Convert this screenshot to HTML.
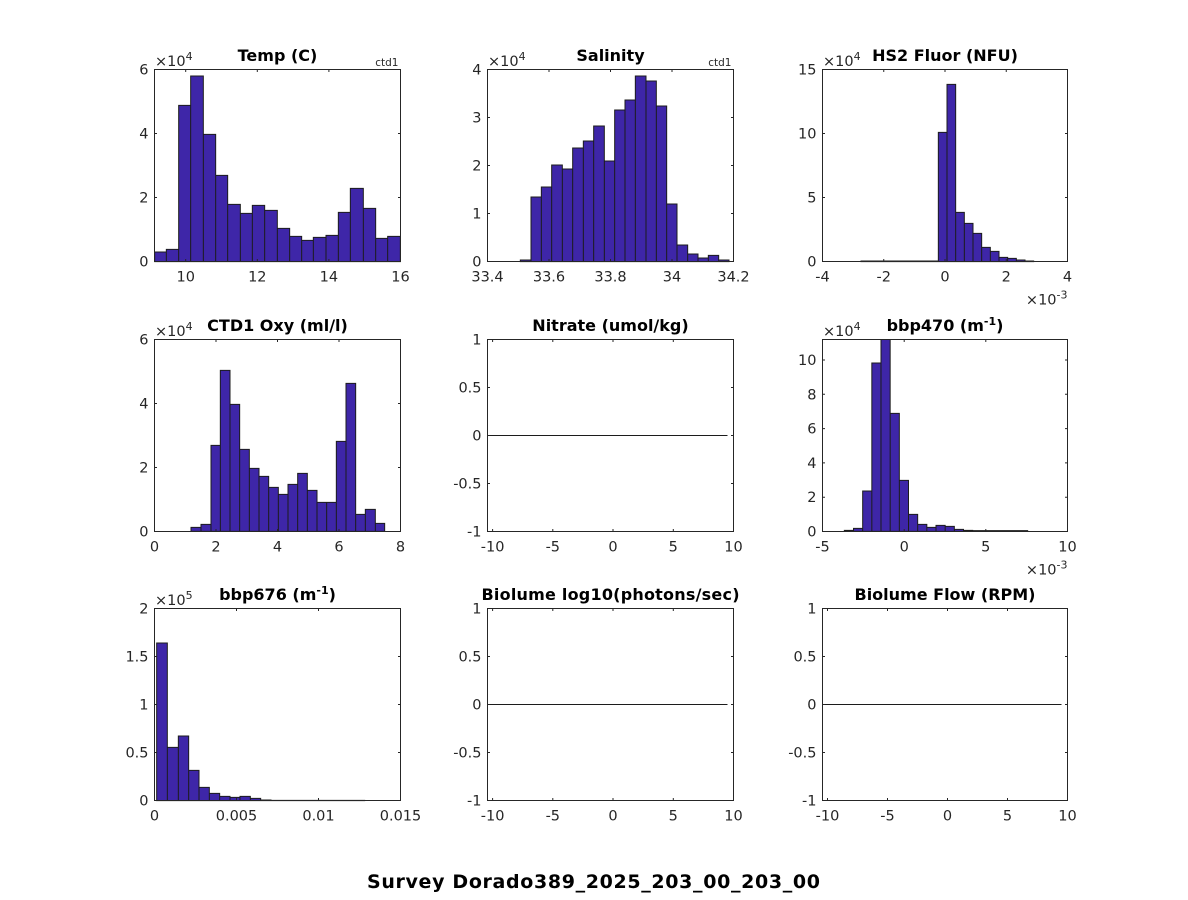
<!DOCTYPE html>
<html><head><meta charset="utf-8"><style>
html,body{margin:0;padding:0;background:#fff}
svg{display:block}
text{font-family:"DejaVu Sans","Liberation Sans",sans-serif;fill:#262626}
.t{font-weight:bold;font-size:16px;fill:#000;text-anchor:middle}
.xl{font-size:14.5px;text-anchor:middle}
.yl{font-size:14.5px;text-anchor:end}
.ex{font-size:14.5px}
.sm{font-size:10.5px;text-anchor:end}
.bars{fill:#3E26A8;stroke:#1c1c1c;stroke-width:3}
.ax{fill:none;stroke:#262626;stroke-width:1}
.tk{stroke:#262626;stroke-width:1}
</style></head><body>
<svg width="1188" height="900" viewBox="0 0 1188 900" xmlns="http://www.w3.org/2000/svg">
<rect width="1188" height="900" fill="#fff"/>

<!-- Bars -->
<g transform="translate(140,40) scale(0.333333)">
<path class="bars" d="M44 665V636H79V665Z M79 665V628H116V665Z M116 665V196H152V665Z M152 665V108H190V665Z M190 665V283H227V665Z M227 665V406H263V665Z M263 665V493H301V665Z M301 665V520H337V665Z M337 665V496H374V665Z M374 665V511H412V665Z M412 665V565H449V665Z M449 665V589H485V665Z M485 665V601H520V665Z M520 665V592H558V665Z M558 665V586H595V665Z M595 665V517H631V665Z M631 665V445H670V665Z M670 665V505H707V665Z M707 665V595H743V665Z M743 665V589H781V665Z"/>
</g>
<g transform="translate(470,40) scale(0.333333)">
<path class="bars" d="M151 665V660H183V665Z M183 665V471H214V665Z M214 665V441H245V665Z M245 665V375H277V665Z M277 665V387H308V665Z M308 665V324H340V665Z M340 665V303H371V665Z M371 665V258H403V665Z M403 665V363H434V665Z M434 665V210H465V665Z M465 665V180H496V665Z M496 665V108H528V665Z M528 665V123H559V665Z M559 665V198H590V665Z M590 665V492H621V665Z M621 665V615H653V665Z M653 665V642H684V665Z M684 665V654H715V665Z M715 665V646H746V665Z M746 665V660H777V665Z"/>
</g>
<g transform="translate(800,40) scale(0.333333)">
<path class="bars" d="M183 665V663H209V665Z M209 665V663H234V665Z M234 665V663H260V665Z M260 665V663H286V665Z M286 665V663H312V665Z M312 665V663H338V665Z M338 665V663H363V665Z M363 665V663H389V665Z M389 665V663H415V665Z M415 665V277H441V665Z M441 665V133H467V665Z M467 665V517H493V665Z M493 665V550H519V665Z M519 665V580H545V665Z M545 665V622H571V665Z M571 665V634H597V665Z M597 665V652H623V665Z M623 665V655H649V665Z M649 665V660H675V665Z M675 665V663H701V665Z"/>
</g>
<g transform="translate(140,310) scale(0.333333)">
<path class="bars" d="M153 664V652H183V664Z M183 664V643H213V664Z M213 664V406H241V664Z M241 664V181H270V664Z M270 664V283H299V664Z M299 664V418H328V664Z M328 664V475H357V664Z M357 664V499H386V664Z M386 664V532H415V664Z M415 664V553H444V664Z M444 664V523H473V664Z M473 664V490H502V664Z M502 664V541H531V664Z M531 664V577H560V664Z M560 664V577H589V664Z M589 664V394H618V664Z M618 664V220H647V664Z M647 664V613H676V664Z M676 664V598H706V664Z M706 664V640H734V664Z"/>
</g>
<g transform="translate(800,310) scale(0.333333)">
<path class="bars" d="M133 664V661H160.5V664Z M160.5 664V655H188V664Z M188 664V543H215.5V664Z M215.5 664V159H243V664Z M243 664V88.5H270.5V664Z M270.5 664V310H298V664Z M298 664V511H325.5V664Z M325.5 664V613H353V664Z M353 664V643H380.5V664Z M380.5 664V652H408V664Z M408 664V646H435.5V664Z M435.5 664V649H463V664Z M463 664V658H490.5V664Z M490.5 664V661H518V664Z M518 664V662H545.5V664Z M545.5 664V662H573V664Z M573 664V662H600.5V664Z M600.5 664V662H628V664Z M628 664V662H655.5V664Z M655.5 664V662H683V664Z"/>
</g>
<g transform="translate(140,580) scale(0.333333)">
<path class="bars" d="M50 662V189H82V662Z M82 662V502H115V662Z M115 662V468H146V662Z M146 662V571H177V662Z M177 662V622H208V662Z M208 662V640H239V662Z M239 662V649H270V662Z M270 662V652H300V662Z M300 662V649H331V662Z M331 662V655H362V662Z M362 662V660H393V662Z M393 662V661H424V662Z M424 662V661H455V662Z M455 662V661H487V662Z M487 662V661H518V662Z M518 662V661H549V662Z M549 662V661H580V662Z M580 662V661H612V662Z M612 662V661H643V662Z M643 662V661H674V662Z"/>
</g>

<!-- zero lines for empty plots -->
<line x1="487.5" y1="435.5" x2="727.5" y2="435.5" stroke="#1c1c1c" stroke-width="1"/>
<line x1="487.5" y1="704.5" x2="727.5" y2="704.5" stroke="#1c1c1c" stroke-width="1"/>
<line x1="822.5" y1="704.5" x2="1061.5" y2="704.5" stroke="#1c1c1c" stroke-width="1"/>

<!-- Axes boxes -->
<rect class="ax" x="154.5" y="69.5" width="246" height="192"/>
<rect class="ax" x="487.5" y="69.5" width="246" height="192"/>
<rect class="ax" x="822.5" y="69.5" width="245" height="192"/>
<rect class="ax" x="154.5" y="339.5" width="246" height="192"/>
<rect class="ax" x="487.5" y="339.5" width="246" height="192"/>
<rect class="ax" x="822.5" y="339.5" width="245" height="192"/>
<rect class="ax" x="154.5" y="608.5" width="246" height="192"/>
<rect class="ax" x="487.5" y="608.5" width="246" height="192"/>
<rect class="ax" x="822.5" y="608.5" width="245" height="192"/>

<!-- Ticks -->
<g class="tk">
<!-- A1 -->
<path d="M185.7 261.5v-2.5M257.3 261.5v-2.5M328.9 261.5v-2.5M185.7 69.5v2.5M257.3 69.5v2.5M328.9 69.5v2.5M154.5 197.5h2.5M154.5 133.5h2.5M400.5 197.5h-2.5M400.5 133.5h-2.5"/>
<!-- A2 -->
<path d="M549 261.5v-2.5M610.5 261.5v-2.5M672 261.5v-2.5M549 69.5v2.5M610.5 69.5v2.5M672 69.5v2.5M487.5 213.5h2.5M487.5 165.5h2.5M487.5 117.5h2.5M733.5 213.5h-2.5M733.5 165.5h-2.5M733.5 117.5h-2.5"/>
<!-- A3 -->
<path d="M883.75 261.5v-2.5M945 261.5v-2.5M1006.25 261.5v-2.5M883.75 69.5v2.5M945 69.5v2.5M1006.25 69.5v2.5M822.5 197.5h2.5M822.5 133.5h2.5M1067.5 197.5h-2.5M1067.5 133.5h-2.5"/>
<!-- A4 -->
<path d="M216 531.5v-2.5M277.5 531.5v-2.5M339 531.5v-2.5M216 339.5v2.5M277.5 339.5v2.5M339 339.5v2.5M154.5 467.5h2.5M154.5 403.5h2.5M400.5 467.5h-2.5M400.5 403.5h-2.5"/>
<!-- A5 -->
<path d="M492.6 531.5v-2.5M552.8 531.5v-2.5M613 531.5v-2.5M673.3 531.5v-2.5M492.6 339.5v2.5M552.8 339.5v2.5M613 339.5v2.5M673.3 339.5v2.5M487.5 483.5h2.5M487.5 435.5h2.5M487.5 387.5h2.5M733.5 483.5h-2.5M733.5 435.5h-2.5M733.5 387.5h-2.5"/>
<!-- A6 -->
<path d="M904.2 531.5v-2.5M985.8 531.5v-2.5M904.2 339.5v2.5M985.8 339.5v2.5M822.5 497.2h2.5M822.5 462.9h2.5M822.5 428.6h2.5M822.5 394.3h2.5M822.5 360h2.5M1067.5 497.2h-2.5M1067.5 462.9h-2.5M1067.5 428.6h-2.5M1067.5 394.3h-2.5M1067.5 360h-2.5"/>
<!-- A7 -->
<path d="M236.5 800.5v-2.5M318.5 800.5v-2.5M236.5 608.5v2.5M318.5 608.5v2.5M154.5 752.5h2.5M154.5 704.5h2.5M154.5 656.5h2.5M400.5 752.5h-2.5M400.5 704.5h-2.5M400.5 656.5h-2.5"/>
<!-- A8 -->
<path d="M492.6 800.5v-2.5M552.8 800.5v-2.5M613 800.5v-2.5M673.3 800.5v-2.5M492.6 608.5v2.5M552.8 608.5v2.5M613 608.5v2.5M673.3 608.5v2.5M487.5 752.5h2.5M487.5 704.5h2.5M487.5 656.5h2.5M733.5 752.5h-2.5M733.5 704.5h-2.5M733.5 656.5h-2.5"/>
<!-- A9 -->
<path d="M827.5 800.5v-2.5M887.5 800.5v-2.5M947.5 800.5v-2.5M1007.5 800.5v-2.5M827.5 608.5v2.5M887.5 608.5v2.5M947.5 608.5v2.5M1007.5 608.5v2.5M822.5 752.5h2.5M822.5 704.5h2.5M822.5 656.5h2.5M1067.5 752.5h-2.5M1067.5 704.5h-2.5M1067.5 656.5h-2.5"/>
</g>

<!-- X tick labels -->
<g class="xl">
<text x="185.7" y="281.5">10</text><text x="257.3" y="281.5">12</text><text x="328.9" y="281.5">14</text><text x="400.5" y="281.5">16</text>
<text x="487.5" y="281.5">33.4</text><text x="549" y="281.5">33.6</text><text x="610.5" y="281.5">33.8</text><text x="672" y="281.5">34</text><text x="733.5" y="281.5">34.2</text>
<text x="822.5" y="281.5">-4</text><text x="883.75" y="281.5">-2</text><text x="945" y="281.5">0</text><text x="1006.25" y="281.5">2</text><text x="1067.5" y="281.5">4</text>
<text x="154.5" y="551.5">0</text><text x="216" y="551.5">2</text><text x="277.5" y="551.5">4</text><text x="339" y="551.5">6</text><text x="400.5" y="551.5">8</text>
<text x="492.6" y="551.5">-10</text><text x="552.8" y="551.5">-5</text><text x="613" y="551.5">0</text><text x="673.3" y="551.5">5</text><text x="733.5" y="551.5">10</text>
<text x="822.5" y="551.5">-5</text><text x="904.2" y="551.5">0</text><text x="985.8" y="551.5">5</text><text x="1067.5" y="551.5">10</text>
<text x="154.5" y="820.5">0</text><text x="236.5" y="820.5">0.005</text><text x="318.5" y="820.5">0.01</text><text x="400.5" y="820.5">0.015</text>
<text x="492.6" y="820.5">-10</text><text x="552.8" y="820.5">-5</text><text x="613" y="820.5">0</text><text x="673.3" y="820.5">5</text><text x="733.5" y="820.5">10</text>
<text x="827.5" y="820.5">-10</text><text x="887.5" y="820.5">-5</text><text x="947.5" y="820.5">0</text><text x="1007.5" y="820.5">5</text><text x="1067.5" y="820.5">10</text>
</g>

<!-- Y tick labels -->
<g class="yl">
<text x="148.5" y="266.5">0</text><text x="148.5" y="202.5">2</text><text x="148.5" y="138.5">4</text><text x="148.5" y="74.5">6</text>
<text x="481.5" y="266.5">0</text><text x="481.5" y="218.5">1</text><text x="481.5" y="170.5">2</text><text x="481.5" y="122.5">3</text><text x="481.5" y="74.5">4</text>
<text x="816.5" y="266.5">0</text><text x="816.5" y="202.5">5</text><text x="816.5" y="138.5">10</text><text x="816.5" y="74.5">15</text>
<text x="148.5" y="536.5">0</text><text x="148.5" y="472.5">2</text><text x="148.5" y="408.5">4</text><text x="148.5" y="344.5">6</text>
<text x="481.5" y="536.5">-1</text><text x="481.5" y="488.5">-0.5</text><text x="481.5" y="440.5">0</text><text x="481.5" y="392.5">0.5</text><text x="481.5" y="344.5">1</text>
<text x="816.5" y="536.5">0</text><text x="816.5" y="502.2">2</text><text x="816.5" y="467.9">4</text><text x="816.5" y="433.6">6</text><text x="816.5" y="399.3">8</text><text x="816.5" y="365">10</text>
<text x="148.5" y="805.5">0</text><text x="148.5" y="757.5">0.5</text><text x="148.5" y="709.5">1</text><text x="148.5" y="661.5">1.5</text><text x="148.5" y="613.5">2</text>
<text x="481.5" y="805.5">-1</text><text x="481.5" y="757.5">-0.5</text><text x="481.5" y="709.5">0</text><text x="481.5" y="661.5">0.5</text><text x="481.5" y="613.5">1</text>
<text x="816.5" y="805.5">-1</text><text x="816.5" y="757.5">-0.5</text><text x="816.5" y="709.5">0</text><text x="816.5" y="661.5">0.5</text><text x="816.5" y="613.5">1</text>
</g>

<!-- Exponent labels -->
<text class="ex" x="155" y="66">×10<tspan font-size="11" dy="-6">4</tspan></text>
<text class="ex" x="488" y="66">×10<tspan font-size="11" dy="-6">4</tspan></text>
<text class="ex" x="823" y="66">×10<tspan font-size="11" dy="-6">4</tspan></text>
<text class="ex" x="155" y="336">×10<tspan font-size="11" dy="-6">4</tspan></text>
<text class="ex" x="823" y="336">×10<tspan font-size="11" dy="-6">4</tspan></text>
<text class="ex" x="155" y="605">×10<tspan font-size="11" dy="-6">5</tspan></text>
<text class="ex" x="1067.5" y="304.5" text-anchor="end">×10<tspan font-size="11" dy="-6">-3</tspan></text>
<text class="ex" x="1067.5" y="574.5" text-anchor="end">×10<tspan font-size="11" dy="-6">-3</tspan></text>

<text class="sm" x="398.5" y="66">ctd1</text>
<text class="sm" x="731.5" y="66">ctd1</text>

<!-- Titles -->
<text class="t" x="277.5" y="61">Temp (C)</text>
<text class="t" x="610.5" y="61">Salinity</text>
<text class="t" x="945" y="61">HS2 Fluor (NFU)</text>
<text class="t" x="277.5" y="331">CTD1 Oxy (ml/l)</text>
<text class="t" x="610.5" y="331">Nitrate (umol/kg)</text>
<text class="t" x="945" y="331">bbp470 (m<tspan font-size="11" dy="-6">-1</tspan><tspan dy="6">)</tspan></text>
<text class="t" x="277.5" y="600">bbp676 (m<tspan font-size="11" dy="-6">-1</tspan><tspan dy="6">)</tspan></text>
<text class="t" x="610.5" y="600" textLength="258" lengthAdjust="spacing">Biolume log10(photons/sec)</text>
<text class="t" x="945" y="600">Biolume Flow (RPM)</text>

<text x="593.5" y="888" text-anchor="middle" font-weight="bold" font-size="19" style="fill:#000" textLength="453" lengthAdjust="spacing">Survey Dorado389_2025_203_00_203_00</text>
</svg>
</body></html>
